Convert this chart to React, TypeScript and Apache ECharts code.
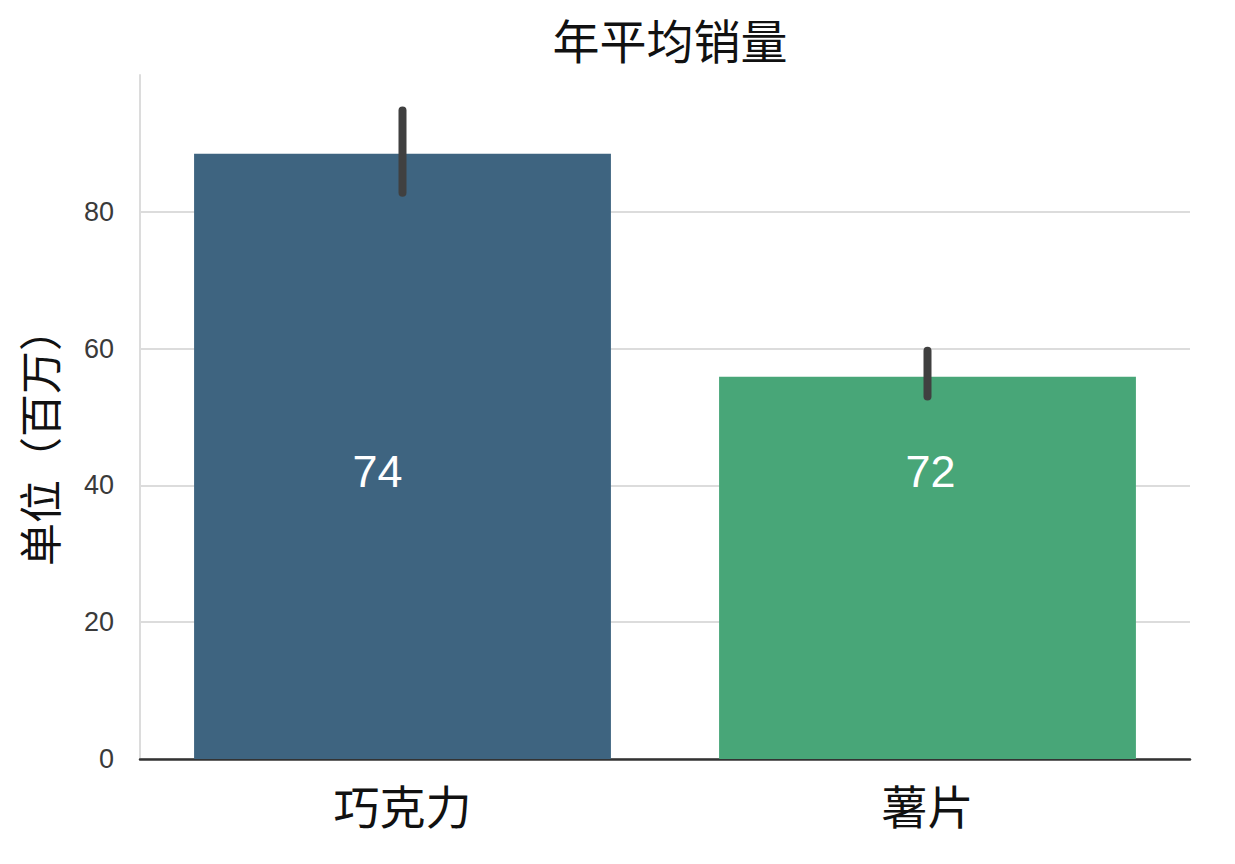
import { useEffect, useRef } from "react";
import * as echarts from "echarts";

const categories = ["巧克力", "薯片"];
const means = [88.5, 55.9];
const errLow = [82.8, 53.0];
const errHigh = [94.8, 59.7];
const barLabels = ["74", "72"];
const barColors = ["#3e6480", "#48a678"];
const yTicks = [0, 20, 40, 60, 80];

const FONT = "'Liberation Sans', 'Noto Sans CJK SC', sans-serif";
// the labels in the source are not centred on the bars
const labelShift = [-25, 3];

export default function App() {
  const ref = useRef<HTMLDivElement | null>(null);

  useEffect(() => {
    if (!ref.current) return;
    const chart = echarts.init(ref.current, undefined, { renderer: "svg" });

    const option: echarts.EChartsOption = {
      animation: false,
      backgroundColor: "#ffffff",
      textStyle: { fontFamily: FONT },
      title: {
        text: "年平均销量",
        left: 665,
        top: 14,
        textAlign: "center",
        textStyle: { fontSize: 47, fontWeight: "normal", color: "#111", fontFamily: FONT },
      },
      graphic: [
        {
          type: "text",
          x: 42,
          y: 437,
          rotation: Math.PI / 2,
          style: {
            text: "单位（百万）",
            fontSize: 43,
            fill: "#111",
            fontFamily: FONT,
            textAlign: "center",
            textVerticalAlign: "middle",
          },
        },
      ],
      grid: { left: 140, right: 45, top: 75, bottom: 105 },
      xAxis: {
        type: "category",
        data: categories,
        axisLine: { show: true, lineStyle: { color: "#333", width: 2.5 } },
        axisTick: { show: false },
        axisLabel: { fontSize: 46, color: "#111", margin: 26, fontFamily: FONT },
        splitLine: { show: false },
      },
      yAxis: {
        type: "value",
        min: 0,
        max: 100,
        interval: 20,
        axisLine: { show: true, lineStyle: { color: "#dcdcdc", width: 2 } },
        axisTick: { show: false },
        axisLabel: {
          fontSize: 27,
          color: "#3a3a3a",
          margin: 26,
          fontFamily: FONT,
          formatter: (v: number) => (yTicks.includes(v) ? String(v) : ""),
        },
        splitLine: {
          show: true,
          lineStyle: {
            color: ["#dcdcdc", "#dcdcdc", "#dcdcdc", "#dcdcdc", "#dcdcdc", "rgba(0,0,0,0)"],
            width: 2,
          },
        },
      },
      series: [
        {
          type: "bar",
          barWidth: "79.4%",
          data: means.map((v, i) => ({
            value: v,
            itemStyle: { color: barColors[i] },
            label: { offset: [labelShift[i], 0] },
          })),
          label: {
            show: true,
            position: "insideBottom",
            distance: 265,
            fontSize: 45,
            color: "#ffffff",
            fontFamily: FONT,
            formatter: (p: any) => barLabels[p.dataIndex],
          },
          z: 2,
        },
        {
          type: "custom",
          data: categories.map((_, i) => [i, errLow[i], errHigh[i]]),
          renderItem: (_params: any, api: any) => {
            const lo = api.coord([api.value(0), api.value(1)]);
            const hi = api.coord([api.value(0), api.value(2)]);
            return {
              type: "line",
              shape: { x1: lo[0], y1: lo[1], x2: hi[0], y2: hi[1] },
              style: { stroke: "#404040", lineWidth: 8, lineCap: "round" },
            };
          },
          z: 3,
        },
      ],
    };

    chart.setOption(option);
    return () => chart.dispose();
  }, []);

  return (
    <div style={{ position: "fixed", left: 0, top: 0, width: 1235, height: 864, background: "#fff" }}>
      <div ref={ref} style={{ width: 1235, height: 864 }} />
    </div>
  );
}
